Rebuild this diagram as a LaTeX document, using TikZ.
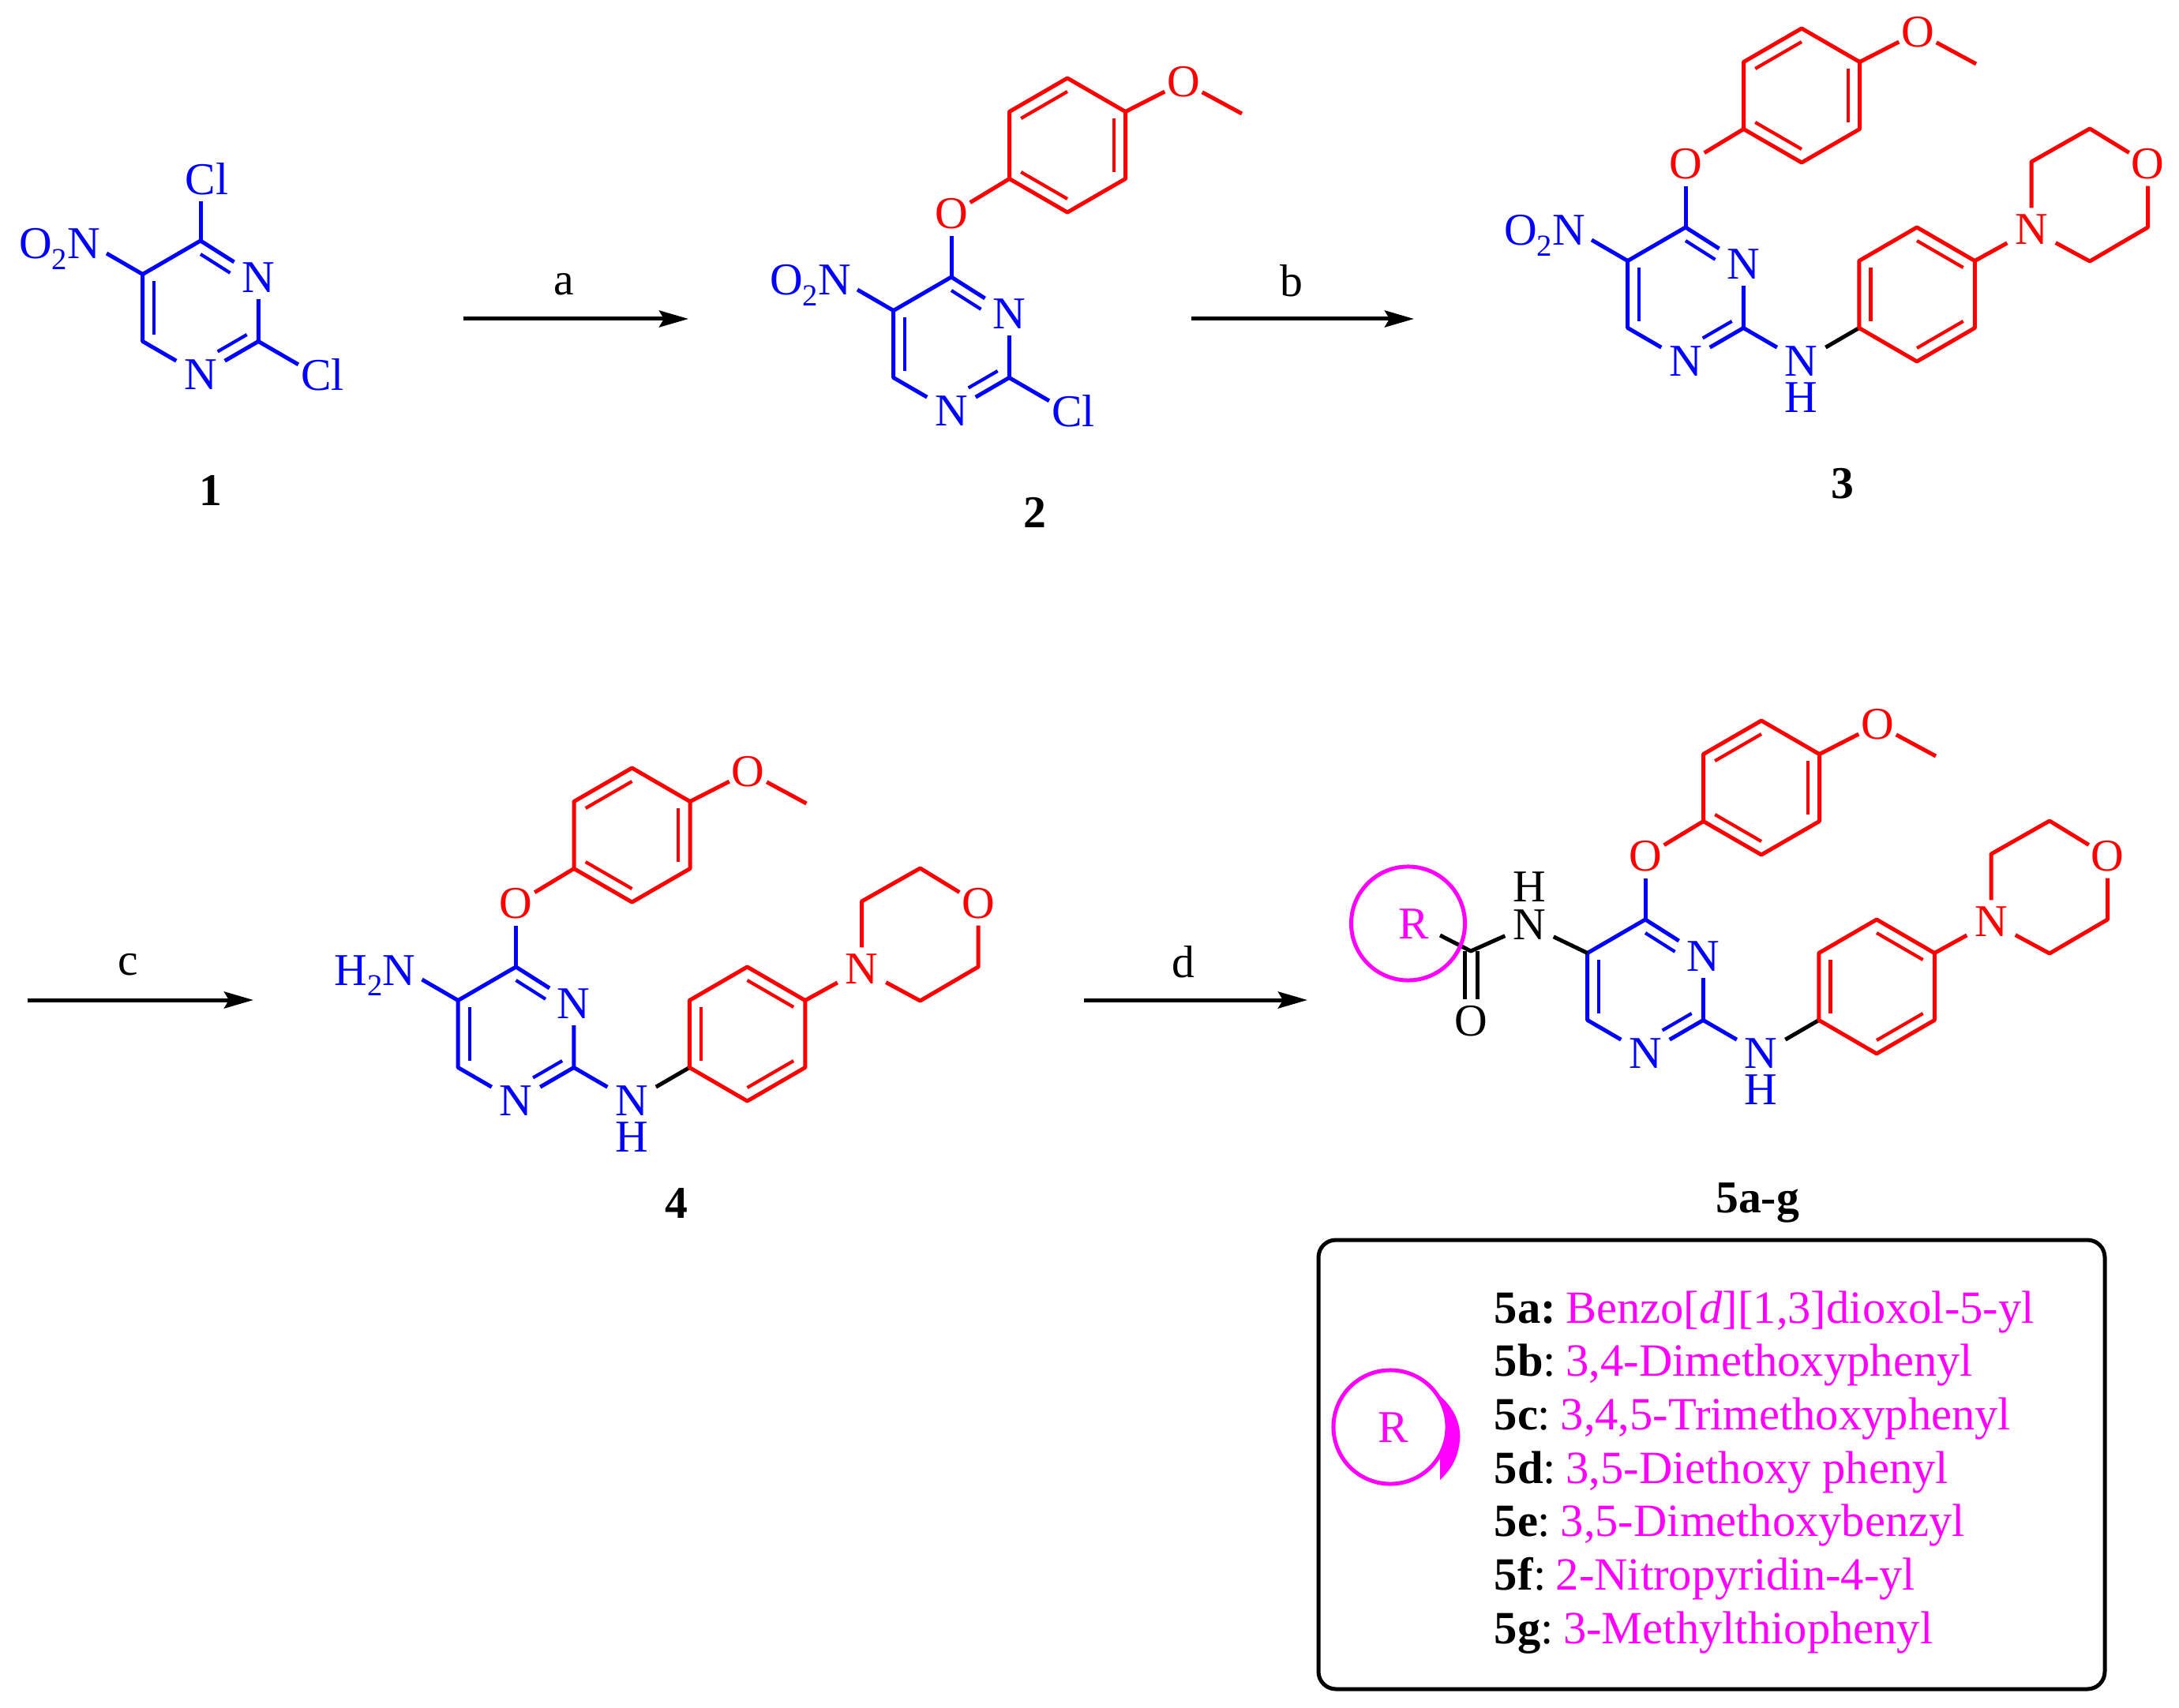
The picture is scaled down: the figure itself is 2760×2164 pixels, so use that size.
\documentclass[tikz,border=0pt]{standalone}
\usepackage{fontspec}
\setmainfont{Liberation Serif}
\usetikzlibrary{calc,arrows.meta}
\definecolor{mblue}{RGB}{0,0,255}
\definecolor{mred}{RGB}{255,0,0}
\definecolor{mmag}{RGB}{255,0,255}
\newcommand{\subtwo}{\raisebox{-.13cm}{\fontsize{11}{12}\selectfont 2}}
\newcommand{\lsp}{\hspace{.125cm}}
\tikzset{
  bond/.style={line width=0.05cm,line join=round},
  inner bond/.style={line width=0.042cm},
  atom/.style={font=\fontsize{16.4}{18}\selectfont,inner sep=0pt,minimum width=.6cm,minimum height=.54cm},
  atomO/.style={atom,minimum width=.46cm},
  atomCl/.style={atom,minimum width=.44cm},
  plain label/.style={font=\fontsize{16.4}{18}\selectfont,inner sep=0pt},
  cpd label/.style={font=\fontsize{16.4}{18}\selectfont\bfseries,inner sep=0pt},
  legend line/.style={font=\fontsize{16.65}{18}\selectfont,inner sep=0pt,anchor=base west,text=mmag},
  rxn arrow/.style={line width=0.05cm,-{Stealth[length=.37cm,width=.21cm,inset=.06cm]}},
  r circle/.style={draw=mmag,line width=0.05cm,circle,minimum size=1.44cm,inner sep=0pt}
}
% inner line of a double bond: #2-#3 moved toward ring centre #4
\newcommand{\dblin}[4][]{\draw[inner bond,#1] ($(#2)!.2!(#4)$) -- ($(#3)!.2!(#4)$);}
% pyrimidine ring, local origin is the ring centre
\newcommand{\pyrring}[1]{%
  \coordinate (#1c) at (0,0);
  \coordinate (#1c4) at (0,-85);
  \coordinate (#1c5) at (-73.3,-42.5);
  \coordinate (#1c6) at (-73.3,42.5);
  \coordinate (#1c2) at (73.3,42.5);
  \node[atom,text=mblue] (#1n1) at (0,85) {N};
  \node[atom,text=mblue] (#1n3) at (73.3,-38.5) {N};
  \draw[bond,mblue] (#1c4) -- (#1c5) -- (#1c6) -- (#1n1) -- (#1c2) -- (#1n3) -- (#1c4);
  \dblin[mblue]{#1c5}{#1c6}{#1c}
  \dblin[mblue,shorten >=.25cm]{#1c4}{#1n3}{#1c}
  \dblin[mblue,shorten >=.25cm]{#1c2}{#1n1}{#1c}
}
% O-aryl-OMe part
\newcommand{\aryloxy}[1]{%
  \node[atomO,text=mred] (#1o) at (0,-165) {O};
  \coordinate (#1ac) at (147,-252);
  \coordinate (#1a1) at (73.5,-209.5);
  \coordinate (#1a2) at (147,-167);
  \coordinate (#1a3) at (220.5,-209.5);
  \coordinate (#1a4) at (220.5,-294.5);
  \coordinate (#1a5) at (147,-337);
  \coordinate (#1a6) at (73.5,-294.5);
  \node[atomO,text=mred] (#1ome) at (294,-332) {O};
  \coordinate (#1me) at (368,-292);
  \draw[bond,mblue] (#1c4) -- (#1o);
  \draw[bond,mred] (#1o) -- (#1a1);
  \draw[bond,mred] (#1a1) -- (#1a2) -- (#1a3) -- (#1a4) -- (#1a5) -- (#1a6) -- cycle;
  \dblin[mred]{#1a1}{#1a2}{#1ac}
  \dblin[mred]{#1a3}{#1a4}{#1ac}
  \dblin[mred]{#1a5}{#1a6}{#1ac}
  \draw[bond,mred] (#1a4) -- (#1ome) -- (#1me);
}
% NH-aryl-morpholine part
\newcommand{\aminomorph}[1]{%
  \node[atom,text=mblue] (#1nh) at (146.6,85) {N};
  \node[plain label,text=mblue] (#1h) at (146.6,131) {H};
  \coordinate (#1bc) at (293,0);
  \coordinate (#1b1) at (219.8,42.5);
  \coordinate (#1b2) at (293,85);
  \coordinate (#1b3) at (366.3,42.5);
  \coordinate (#1b4) at (366.3,-42.5);
  \coordinate (#1b5) at (293,-85);
  \coordinate (#1b6) at (219.8,-42.5);
  \node[atom,text=mred] (#1mn) at (438,-82) {N};
  \coordinate (#1m2) at (438,-168);
  \coordinate (#1m3) at (512,-210);
  \node[atomO,text=mred] (#1mo) at (585.5,-165) {O};
  \coordinate (#1m5) at (585.5,-85);
  \coordinate (#1m6) at (512,-42);
  \draw[bond,mblue] (#1c2) -- (#1nh);
  \draw[bond] (#1nh) -- (#1b1);
  \draw[bond,mred] (#1b1) -- (#1b2) -- (#1b3) -- (#1b4) -- (#1b5) -- (#1b6) -- cycle;
  \dblin[mred]{#1b6}{#1b1}{#1bc}
  \dblin[mred]{#1b2}{#1b3}{#1bc}
  \dblin[mred]{#1b4}{#1b5}{#1bc}
  \draw[bond,mred] (#1b4) -- (#1mn) -- (#1m2) -- (#1m3) -- (#1mo) -- (#1m5) -- (#1m6) -- (#1mn);
}
\newcommand{\nitro}[1]{%
  \node[plain label,text=mblue,anchor=base east] (#1no) at (-126.6,-62) {O\subtwo N};
  \coordinate (#1nb) at (-119,-69);
  \draw[bond,mblue] (#1c5) -- (#1nb);
}
\begin{document}
\begin{tikzpicture}[x=0.01cm,y=-0.01cm]
\useasboundingbox (0,0) rectangle (2760,2164);
\fill[white] (0,0) rectangle (2760,2164);

% compound 1
\begin{scope}[shift={(254,390)}]
  \pyrring{ma}
  \node[atomCl,text=mblue] (macla) at (0,-163) {C\rlap{l}};
  \node[atomCl,text=mblue] (maclb) at (146.6,85) {C\rlap{l}};
  \draw[bond,mblue] (mac4) -- (macla);
  \draw[bond,mblue] (mac2) -- (maclb);
  \nitro{ma}
\end{scope}

% compound 2
\begin{scope}[shift={(1205,436)}]
  \pyrring{mb}
  \aryloxy{mb}
  \node[atomCl,text=mblue] (mbcl) at (146.6,85) {C\rlap{l}};
  \draw[bond,mblue] (mbc2) -- (mbcl);
  \nitro{mb}
\end{scope}

% compound 3
\begin{scope}[shift={(2135,373)}]
  \pyrring{mc}
  \aryloxy{mc}
  \aminomorph{mc}
  \nitro{mc}
\end{scope}

% compound 4
\begin{scope}[shift={(653.5,1310)}]
  \pyrring{md}
  \aryloxy{md}
  \aminomorph{md}
  \node[plain label,text=mblue,anchor=base east] (mdnh2) at (-126.6,-62) {H\subtwo N};
  \coordinate (mdnb) at (-119,-69);
  \draw[bond,mblue] (mdc5) -- (mdnb);
\end{scope}

% compound 5
\begin{scope}[shift={(2084,1250)}]
  \pyrring{me}
  \aryloxy{me}
  \aminomorph{me}
  \node[atom] (meamn) at (-147,-78) {N};
  \node[plain label] (meamh) at (-147,-126) {H};
  \coordinate (mecc) at (-221,-45);
  \node[atomO] (mecoo) at (-221,43.5) {O};
  \coordinate (merb) at (-260,-65);
  \draw[bond] (mec5) -- (meamn) -- (mecc) -- (merb);
  \draw[bond] ($(mecc)+(-8,0)$) -- ($(mecc)+(-8,61)$);
  \draw[bond] ($(mecc)+(8,0)$) -- ($(mecc)+(8,61)$);
  \node[r circle] (mer) at (-300.5,-80) {};
  \node[plain label,text=mmag] (merl) at (-293,-79.5) {R};
\end{scope}

% arrows
\coordinate (aas) at (587,404); \coordinate (aae) at (872,404);
\coordinate (abs) at (1509,404); \coordinate (abe) at (1791,404);
\coordinate (acs) at (35,1267); \coordinate (ace) at (321,1267);
\coordinate (ads) at (1373,1267); \coordinate (ade) at (1656,1267);
\draw[rxn arrow] (aas) -- (aae);
\draw[rxn arrow] (abs) -- (abe);
\draw[rxn arrow] (acs) -- (ace);
\draw[rxn arrow] (ads) -- (ade);
\node[plain label] (la) at (714,360) {a};
\node[plain label] (lb) at (1636,356) {b};
\node[plain label] (lc) at (162,1222) {c};
\node[plain label] (ld) at (1499,1219) {d};

% compound numbers
\node[cpd label] (n1) at (267,621) {1};
\node[cpd label] (n2) at (1311,649) {2};
\node[cpd label] (n3) at (2334,613) {3};
\node[cpd label] (n4) at (857,1525) {4};
\node[cpd label,anchor=base] (n5) at (2226,1536.5) {5a-g};

% legend box
\draw[line width=0.05cm,rounded corners=.22cm] (1670,1571) rectangle (2666,2140);
\node[r circle] (lr) at (1761,1808) {};
\node[plain label,text=mmag] (lrl) at (1765,1809) {R};
\fill[mmag] (1822,1767) .. controls (1842,1783) and (1851,1805) .. (1849,1825)
  .. controls (1847,1845) and (1840,1860) .. (1824,1875) -- (1824,1846)
  .. controls (1834,1825) and (1834,1795) .. cycle;
\node[legend line] (t1) at (1892,1676) {\textcolor{black}{\textbf{5a:}}\lsp Benzo[\textit{d}][1,3]dioxol-5-yl};
\node[legend line] (t2) at (1892,1743.7) {\textcolor{black}{\textbf{5b}:}\lsp 3,4-Dimethoxyphenyl};
\node[legend line] (t3) at (1892,1811.4) {\textcolor{black}{\textbf{5c}:}\lsp 3,4,5-Trimethoxyphenyl};
\node[legend line] (t4) at (1892,1879.1) {\textcolor{black}{\textbf{5d}:}\lsp 3,5-Diethoxy phenyl};
\node[legend line] (t5) at (1892,1946.8) {\textcolor{black}{\textbf{5e}:}\lsp 3,5-Dimethoxybenzyl};
\node[legend line] (t6) at (1892,2014.5) {\textcolor{black}{\textbf{5f}:}\lsp 2-Nitropyridin-4-yl};
\node[legend line] (t7) at (1892,2082.2) {\textcolor{black}{\textbf{5g}:}\lsp 3-Methylthiophenyl};
\end{tikzpicture}
\end{document}
